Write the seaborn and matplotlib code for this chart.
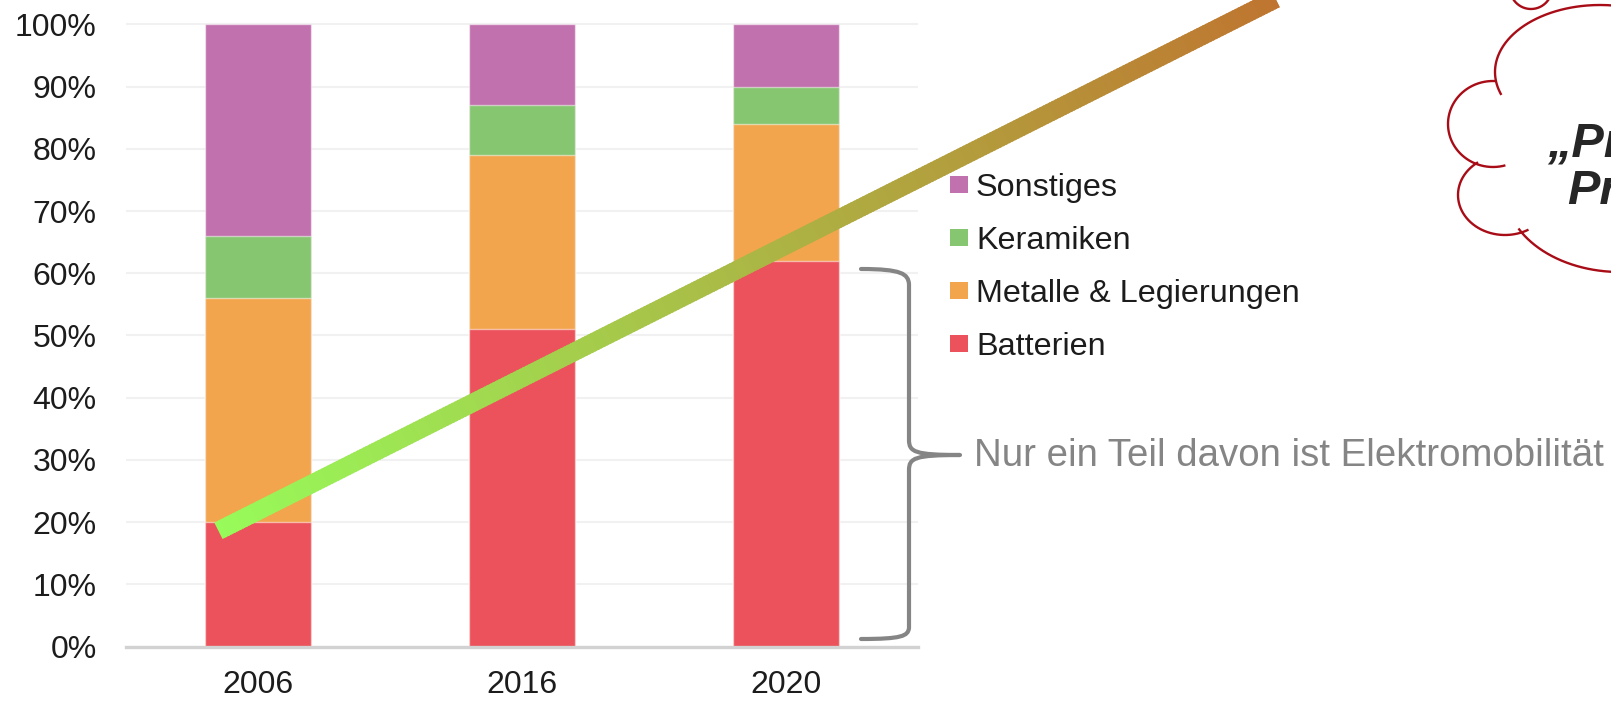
import numpy as np
import matplotlib
matplotlib.use("Agg")
import matplotlib.pyplot as plt
import matplotlib.colors as mcolors
from matplotlib.collections import LineCollection
from matplotlib.path import Path
from matplotlib.patches import PathPatch, Rectangle
import seaborn as sns
import pandas as pd

# ---------------- data ----------------
years = ["2006", "2016", "2020"]
batterien = [20, 51, 62]
metalle = [36, 28, 22]
keramiken = [10, 8, 6]
sonstiges = [34, 13, 10]
series_names = ["Batterien", "Metalle & Legierungen", "Keramiken", "Sonstiges"]
series_colors = ["#EC525B", "#F3A54D", "#86C670", "#C171AD"]
y_ticks = list(range(0, 101, 10))
brace_label = "Nur ein Teil davon ist Elektromobilität"
cloud_lines = ["\u201ePr", "Pr"]

# ---------------- style ----------------
sns.set_style("white")
plt.rcParams["font.family"] = ["Liberation Sans", "DejaVu Sans"]

W, H = 1611, 701
fig = plt.figure(figsize=(W / 100, H / 100), dpi=100)

x0px, x1px = 126, 918
y0px = 646.5
ppu = 6.22
ymax = 101
ytop_px = y0px - ppu * ymax
ax = fig.add_axes([x0px / W, (H - y0px) / H, (x1px - x0px) / W, (y0px - ytop_px) / H])

df = pd.DataFrame({"Jahr": years, "Batterien": batterien,
                   "Metalle & Legierungen": metalle,
                   "Keramiken": keramiken, "Sonstiges": sonstiges})
cum = df[series_names].cumsum(axis=1)
for name, col in reversed(list(zip(series_names, series_colors))):
    sns.barplot(x=df["Jahr"], y=cum[name], color=col, saturation=1, width=0.4,
                ax=ax, edgecolor=(1, 1, 1, 0.5), linewidth=1.0, zorder=2)

ax.set_xlim(-0.5, 2.5)
ax.set_ylim(0, ymax)
ax.set_yticks(y_ticks)
ax.set_yticklabels([f"{v}%" for v in y_ticks])
ax.set_xlabel("")
ax.set_ylabel("")
for s in ["top", "right", "left"]:
    ax.spines[s].set_visible(False)
ax.spines["bottom"].set_color("#d2d2d2")
ax.spines["bottom"].set_linewidth(2.4)
ax.yaxis.grid(True, color="#f1f1f1", linewidth=1.5)
ax.xaxis.grid(False)
ax.set_axisbelow(True)
ax.tick_params(axis="y", length=0, pad=21, labelsize=23, labelcolor="#1c1c1c")
ax.tick_params(axis="x", which="major", length=0, pad=17, labelsize=23, labelcolor="#1c1c1c")
ax.set_xticks([-0.5, 0.5, 1.5, 2.5], minor=True)
ax.tick_params(axis="x", which="minor", length=6.5, width=2.2, color="#d2d2d2", direction="out")

# ---------------- gradient trend line ----------------
xs0, ys0 = -0.15, 18.6
xs1, ys1 = 3.85, 104.0
n = 400
t = np.linspace(0, 1.12, n + 1)
xs = xs0 + (xs1 - xs0) * t
ys = ys0 + (ys1 - ys0) * t
dx, dy = xs[1] - xs[0], ys[1] - ys[0]
segs = [[(xs[i], ys[i]), (xs[i + 1] + 0.6 * dx, ys[i + 1] + 0.6 * dy)] for i in range(n)]
c0 = np.array(mcolors.to_rgb("#97FB5A"))
c1 = np.array(mcolors.to_rgb("#BF7530"))
tc = np.clip(t[:-1], 0, 1)[:, None]
cols = c0 * (1 - tc) + c1 * tc
lc = LineCollection(segs, colors=cols, linewidths=13.2, capstyle="butt",
                    clip_on=False, zorder=5)
ax.add_collection(lc, autolim=False)

# ---------------- overlay (pixel coordinates) ----------------
ov = fig.add_axes([0, 0, 1, 1], zorder=10)
ov.set_xlim(0, W)
ov.set_ylim(H, 0)
ov.axis("off")
ov.patch.set_alpha(0)

# legend (manual)
leg_top = 184.5
leg_step = 53
for i, (name, col) in enumerate(reversed(list(zip(series_names, series_colors)))):
    yc = leg_top + i * leg_step
    ov.add_patch(Rectangle((950, yc - 8.5), 18, 17, facecolor=col, edgecolor="none"))
    ov.text(976, yc + 11.3, name, fontsize=23.3, color="#1c1c1c", va="baseline", ha="left")

# brace
verts = [(861, 269), (902, 269), (908, 274), (909, 284),
         (909, 440),
         (909, 452), (915, 455), (960, 455),
         (915, 455), (909, 458), (909, 470),
         (909, 628),
         (908, 636), (902, 639), (861, 639)]
codes = [Path.MOVETO, Path.CURVE4, Path.CURVE4, Path.CURVE4,
         Path.LINETO,
         Path.CURVE4, Path.CURVE4, Path.CURVE4,
         Path.CURVE4, Path.CURVE4, Path.CURVE4,
         Path.LINETO,
         Path.CURVE4, Path.CURVE4, Path.CURVE4]
ov.add_patch(PathPatch(Path(verts, codes), facecolor="none", edgecolor="#858585",
                       linewidth=3.0, capstyle="round", joinstyle="round"))
ov.text(974, 466.5, brace_label, fontsize=27.6, color="#858585", va="baseline", ha="left")

# cloud
def ell(cx, cy, a, b, t0, t1):
    tt = np.radians(np.linspace(t0, t1, 300))
    return cx + a * np.cos(tt), cy - b * np.sin(tt)

cloud_color = "#A80C16"
for (cx, cy, a, b, t0, t1) in [(1600, 72, 105, 67, 20, 200),
                               (1493, 124, 45, 43, 85, 286),
                               (1505, 195, 47, 40, 125, 300),
                               (1620, 190, 115, 82, 208, 330),
                               (1531, -12, 21, 21, 180, 360)]:
    ex, ey = ell(cx, cy, a, b, t0, t1)
    ov.plot(ex, ey, color=cloud_color, linewidth=1.7, solid_capstyle="butt")

ov.text(1547, 157, cloud_lines[0], fontsize=35, fontweight="bold", fontstyle="italic",
        color="#262626", va="baseline", ha="left")
ov.text(1567, 204, cloud_lines[1], fontsize=35, fontweight="bold", fontstyle="italic",
        color="#262626", va="baseline", ha="left")

fig.savefig("out.png", dpi=100)
